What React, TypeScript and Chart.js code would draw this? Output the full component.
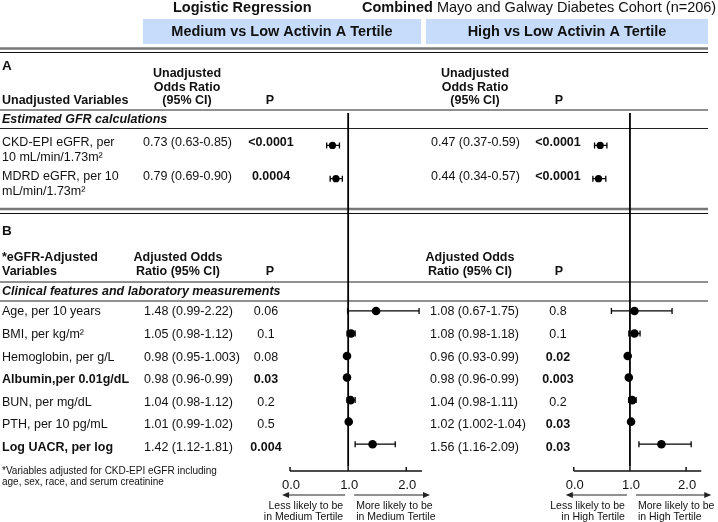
import React, { useEffect, useRef } from "react";
import { Chart, registerables } from "chart.js";
Chart.register(...registerables);

// ---------------- DATA ----------------
const rowsA = ["CKD-EPI eGFR, per|10 mL/min/1.73m²", "MDRD eGFR, per 10|mL/min/1.73m²"];
const medOR_A = [0.73, 0.79];
const medLo_A = [0.63, 0.69];
const medHi_A = [0.85, 0.9];
const medP_A = ["<0.0001", "0.0004"];
const highOR_A = [0.47, 0.44];
const highLo_A = [0.37, 0.34];
const highHi_A = [0.59, 0.57];
const highP_A = ["<0.0001", "<0.0001"];

const rowsB = [
  "Age, per 10 years",
  "BMI, per kg/m²",
  "Hemoglobin, per g/L",
  "Albumin,per 0.01g/dL",
  "BUN, per mg/dL",
  "PTH, per 10 pg/mL",
  "Log UACR, per log",
];
const boldB = [false, false, false, true, false, false, true];
const medOR_B = [1.48, 1.05, 0.98, 0.98, 1.04, 1.01, 1.42];
const medLo_B = [0.99, 0.98, 0.95, 0.96, 0.98, 0.99, 1.12];
const medHi_B = [2.22, 1.12, 1.003, 0.99, 1.12, 1.02, 1.81];
const medP_B = ["0.06", "0.1", "0.08", "0.03", "0.2", "0.5", "0.004"];
const highOR_B = [1.08, 1.08, 0.96, 0.98, 1.04, 1.02, 1.56];
const highLo_B = [0.67, 0.98, 0.93, 0.96, 0.98, 1.002, 1.16];
const highHi_B = [1.75, 1.18, 0.99, 0.99, 1.11, 1.04, 2.09];
const highP_B = ["0.8", "0.1", "0.02", "0.003", "0.2", "0.03", "0.03"];

const axisTicks = [0, 1, 2];
const axisTickLabels = ["0.0", "1.0", "2.0"];

// ---------------- LAYOUT ----------------
const W = 718;
const H = 522;
const FONT = "'Liberation Sans', Arial, Helvetica, sans-serif";
const rowYA = [143, 177];
const rowYB = [312, 335, 358, 380, 403, 425, 448];
const REF_TOP = 110;
const AXIS_Y = 471;
const L0 = 289, LU = 59;
const R0 = 577, RU = 57;
const xLmin = -L0 / LU, xLmax = xLmin + W / LU;
const xRmin = -R0 / RU, xRmax = xRmin + W / RU;
const AXIS_END = 2.27;

const fmt = (n: number) => (Math.round(n * 100) / 100 === n ? n.toFixed(2) : String(n));
const ciText = (o: number, l: number, h: number) => `${fmt(o)} (${fmt(l)}-${fmt(h)})`;
const isSig = (p: string) => p.startsWith("<") || parseFloat(p) < 0.05;

function font(size: number, bold = false, italic = false) {
  return `${italic ? "italic " : ""}${bold ? "bold " : ""}${size}px ${FONT}`;
}

function text(ctx: CanvasRenderingContext2D, s: string, x: number, y: number, size: number, bold = false, align: CanvasTextAlign = "left", italic = false, color = "#111") {
  ctx.font = font(size, bold, italic);
  ctx.textAlign = align;
  ctx.textBaseline = "middle";
  ctx.fillStyle = color;
  ctx.fillText(s, x, y);
}

function hline(ctx: CanvasRenderingContext2D, y: number, x1: number, x2: number, w: number, color: string) {
  ctx.beginPath();
  ctx.strokeStyle = color;
  ctx.lineWidth = w;
  ctx.moveTo(x1, y);
  ctx.lineTo(x2, y);
  ctx.stroke();
}

function arrow(ctx: CanvasRenderingContext2D, x1: number, x2: number, y: number) {
  ctx.beginPath();
  ctx.strokeStyle = "#222";
  ctx.lineWidth = 1.2;
  ctx.moveTo(x1, y);
  ctx.lineTo(x2, y);
  ctx.stroke();
  const d = x2 > x1 ? 1 : -1;
  ctx.beginPath();
  ctx.fillStyle = "#222";
  ctx.moveTo(x2 + d * 2, y);
  ctx.lineTo(x2 - d * 5, y - 3);
  ctx.lineTo(x2 - d * 5, y + 3);
  ctx.closePath();
  ctx.fill();
}

const tablePlugin = {
  id: "tablePlugin",
  beforeDatasetsDraw(chart: any) {
    const ctx: CanvasRenderingContext2D = chart.ctx;
    ctx.save();
    ctx.fillStyle = "#c6dcfa";
    ctx.fillRect(143, 19, 278, 25);
    ctx.fillRect(426, 19, 282, 25);
    hline(ctx, 48.5, 0, 708, 2.5, "#777");
    hline(ctx, 52.5, 0, 708, 1, "#111");
    hline(ctx, 110, 0, 708, 1, "#222");
    hline(ctx, 128.5, 0, 708, 1, "#222");
    hline(ctx, 209, 0, 708, 2.5, "#777");
    hline(ctx, 213.5, 0, 708, 1, "#111");
    hline(ctx, 282, 0, 708, 1, "#222");
    hline(ctx, 301, 0, 708, 1, "#222");

    const panels = [
      { s: chart.scales.xL, who: "Medium" },
      { s: chart.scales.xR, who: "High" },
    ];
    panels.forEach(({ s, who }) => {
      const p0 = s.getPixelForValue(0);
      const pe = s.getPixelForValue(AXIS_END);
      const p1 = s.getPixelForValue(1);
      hline(ctx, AXIS_Y, p0, pe, 1.5, "#111");
      axisTicks.forEach((t, i) => {
        const px = s.getPixelForValue(t);
        ctx.beginPath();
        ctx.strokeStyle = "#111";
        ctx.lineWidth = 1.5;
        ctx.moveTo(px, AXIS_Y);
        ctx.lineTo(px, AXIS_Y - 4);
        ctx.stroke();
        text(ctx, axisTickLabels[i], px + 1, 485, 13, false, "center");
      });
      arrow(ctx, p1 - 3, p0 - 6, 495);
      arrow(ctx, p1 + 6, who === "Medium" ? pe + 6 : pe + 8, 495);
      text(ctx, "Less likely to be", p1 - 5, 506, 10.5, false, "right");
      text(ctx, `in ${who} Tertile`, p1 - 5, 517, 10.5, false, "right");
      text(ctx, "More likely to be", p1 + 8, 506, 10.5, false, "left");
      text(ctx, `in ${who} Tertile`, p1 + 8, 517, 10.5, false, "left");
    });
    ctx.restore();
  },
  afterDraw(chart: any) {
    const ctx: CanvasRenderingContext2D = chart.ctx;
    ctx.save();
    text(ctx, "Logistic Regression", 173, 7.5, 14.5, true);
    ctx.font = font(14.5, true);
    const cw = ctx.measureText("Combined").width;
    text(ctx, "Combined", 362, 7.5, 14.5, true);
    text(ctx, " Mayo and Galway Diabetes Cohort (n=206)", 362 + cw, 7.5, 14.5, false);
    text(ctx, "Medium vs Low Activin A Tertile", 282, 32, 14.5, true, "center");
    text(ctx, "High vs Low Activin A Tertile", 567, 32, 14.5, true, "center");

    text(ctx, "A", 2, 66, 13.5, true);
    ["Unadjusted", "Odds Ratio", "(95% CI)"].forEach((s, i) => {
      text(ctx, s, 187, 74 + i * 13.5, 12.5, true, "center");
      text(ctx, s, 475, 74 + i * 13.5, 12.5, true, "center");
    });
    text(ctx, "P", 270, 101, 12.5, true, "center");
    text(ctx, "P", 559, 101, 12.5, true, "center");
    text(ctx, "Unadjusted Variables", 2, 101, 12.5, true);
    text(ctx, "Estimated GFR calculations", 2, 120, 12.5, true, "left", true);

    rowsA.forEach((lab, i) => {
      const y = rowYA[i];
      lab.split("|").forEach((ln, k) => text(ctx, ln, 2, y + k * 15, 12.5));
      text(ctx, ciText(medOR_A[i], medLo_A[i], medHi_A[i]), 143, y, 12.5);
      text(ctx, medP_A[i], 271, y, 12.5, isSig(medP_A[i]), "center");
      text(ctx, ciText(highOR_A[i], highLo_A[i], highHi_A[i]), 431, y, 12.5);
      text(ctx, highP_A[i], 558, y, 12.5, isSig(highP_A[i]), "center");
    });

    text(ctx, "B", 2, 231, 13.5, true);
    text(ctx, "*eGFR-Adjusted", 2, 258, 12.5, true);
    text(ctx, "Variables", 2, 271.5, 12.5, true);
    text(ctx, "Adjusted Odds", 178, 258, 12.5, true, "center");
    text(ctx, "Ratio (95% CI)", 178, 271.5, 12.5, true, "center");
    text(ctx, "Adjusted Odds", 470, 258, 12.5, true, "center");
    text(ctx, "Ratio (95% CI)", 470, 271.5, 12.5, true, "center");
    text(ctx, "P", 270, 271.5, 12.5, true, "center");
    text(ctx, "P", 559, 271.5, 12.5, true, "center");
    text(ctx, "Clinical features and laboratory measurements", 2, 292, 12.5, true, "left", true);

    rowsB.forEach((lab, i) => {
      const y = rowYB[i];
      text(ctx, lab, 2, y, 12.5, boldB[i]);
      text(ctx, ciText(medOR_B[i], medLo_B[i], medHi_B[i]), 144, y, 12.5);
      text(ctx, medP_B[i], 266, y, 12.5, isSig(medP_B[i]), "center");
      text(ctx, ciText(highOR_B[i], highLo_B[i], highHi_B[i]), 430, y, 12.5);
      text(ctx, highP_B[i], 558, y, 12.5, isSig(highP_B[i]), "center");
    });

    text(ctx, "*Variables adjusted for CKD-EPI eGFR including", 2, 471, 10);
    text(ctx, "age, sex, race, and serum creatinine", 2, 482.5, 10);
    ctx.restore();
  },
};

function buildDatasets() {
  const ds: any[] = [];
  const ref = (axis: string) => ({
    xAxisID: axis,
    yAxisID: "y",
    data: [{ x: 1, y: REF_TOP }, { x: 1, y: AXIS_Y }],
    showLine: true,
    borderColor: "#000",
    borderWidth: 1.8,
    pointRadius: 0,
  });
  ds.push(ref("xL"), ref("xR"));
  const ci = (axis: string, lo: number, hi: number, y: number) => ({
    xAxisID: axis,
    yAxisID: "y",
    data: [{ x: lo, y }, { x: hi, y }],
    showLine: true,
    borderColor: "#000",
    borderWidth: 1.3,
    pointStyle: "line",
    pointRotation: 90,
    pointRadius: 3,
    pointBorderWidth: 1.3,
    pointBorderColor: "#000",
  });
  rowYA.forEach((y, i) => {
    ds.push(ci("xL", medLo_A[i], medHi_A[i], y));
    ds.push(ci("xR", highLo_A[i], highHi_A[i], y));
  });
  rowYB.forEach((y, i) => {
    ds.push(ci("xL", medLo_B[i], medHi_B[i], y));
    ds.push(ci("xR", highLo_B[i], highHi_B[i], y));
  });
  const pts = (axis: string, ors: number[], ys: number[], r: number) => ({
    xAxisID: axis,
    yAxisID: "y",
    data: ors.map((o, i) => ({ x: o, y: ys[i] })),
    pointRadius: r,
    pointBackgroundColor: "#000",
    pointBorderColor: "#000",
    pointBorderWidth: 0,
  });
  ds.push(pts("xL", medOR_A, rowYA, 3.6));
  ds.push(pts("xR", highOR_A, rowYA, 3.6));
  ds.push(pts("xL", medOR_B, rowYB, 4.3));
  ds.push(pts("xR", highOR_B, rowYB, 4.3));
  return ds;
}

export default function App() {
  const ref = useRef<HTMLCanvasElement | null>(null);
  useEffect(() => {
    if (!ref.current) return;
    const chart = new Chart(ref.current, {
      type: "scatter",
      data: { datasets: buildDatasets() },
      options: {
        animation: false,
        responsive: false,
        devicePixelRatio: 1,
        layout: { padding: 0 },
        plugins: { legend: { display: false }, tooltip: { enabled: false } },
        scales: {
          xL: { type: "linear", axis: "x", display: false, min: xLmin, max: xLmax, bounds: "data" },
          xR: { type: "linear", axis: "x", display: false, min: xRmin, max: xRmax, bounds: "data" },
          y: { type: "linear", display: false, min: 0, max: H, reverse: true },
        },
      } as any,
      plugins: [tablePlugin],
    });
    return () => chart.destroy();
  }, []);
  return (
    <div style={{ position: "absolute", left: 0, top: 0, width: W, height: H, background: "#fff" }}>
      <canvas ref={ref} width={W} height={H} style={{ display: "block" }} />
    </div>
  );
}
